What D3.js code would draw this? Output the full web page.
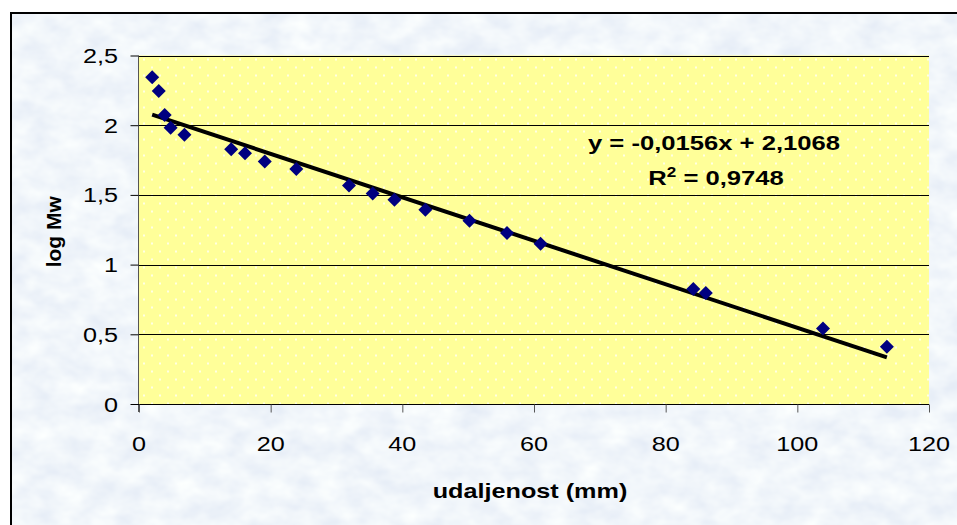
<!DOCTYPE html>
<html>
<head>
<meta charset="utf-8">
<script src="https://cdn.jsdelivr.net/npm/d3@7"></script>
<style>
  html, body { margin: 0; padding: 0; background: #fff; }
  svg { display: block; }
</style>
</head>
<body>
<svg width="957" height="525"></svg>
<script>
// distance from origin (mm) and log of molecular weight
const distance = [2.0, 3.0, 3.9, 4.8, 6.9, 14.0, 16.1, 19.1, 23.9, 31.9, 35.5, 38.8, 43.5, 50.2, 55.9, 61.0, 84.2, 86.1, 103.9, 113.6];
const logMw = [2.344, 2.246, 2.074, 1.981, 1.931, 1.828, 1.799, 1.739, 1.685, 1.567, 1.510, 1.465, 1.393, 1.314, 1.226, 1.150, 0.825, 0.797, 0.541, 0.410];

// linear trend shown on the chart
const slope = -0.0156;
const intercept = 2.1068;
const rSquared = "0,9748";

const xTicks = [0, 20, 40, 60, 80, 100, 120];
const yTicks = [0, 0.5, 1, 1.5, 2, 2.5];

const width = 957, height = 525;
const plot = { left: 139, right: 929, top: 55.5, bottom: 404 };

const fmt = v => String(v).replace(".", ",");

const svg = d3.select("svg")
    .style("font-family", "'Liberation Sans', Arial, sans-serif");

const defs = svg.append("defs");

// mottled light blue background
const tex = defs.append("filter").attr("id", "tex")
    .attr("x", 0).attr("y", 0).attr("width", "100%").attr("height", "100%");
tex.append("feTurbulence")
    .attr("type", "fractalNoise")
    .attr("baseFrequency", "0.035 0.05")
    .attr("numOctaves", 3)
    .attr("seed", 7);
tex.append("feColorMatrix")
    .attr("type", "matrix")
    .attr("values", "0.26 0 0 0 0.75  0.22 0 0 0 0.81  0.10 0 0 0 0.91  0 0 0 0 1");

// white dots on the yellow plot area
const dots = defs.append("pattern").attr("id", "dots")
    .attr("patternUnits", "userSpaceOnUse")
    .attr("x", plot.left + 3).attr("y", plot.top + 2)
    .attr("width", 16).attr("height", 16);
dots.append("rect").attr("width", 16).attr("height", 16).attr("fill", "#ffff99");
dots.append("circle").attr("cx", 2).attr("cy", 2).attr("r", 1).attr("fill", "#fff");
dots.append("circle").attr("cx", 10).attr("cy", 10).attr("r", 1).attr("fill", "#fff");

// chart area
svg.append("rect")
    .attr("x", 11).attr("y", 13)
    .attr("width", width - 11).attr("height", height - 13)
    .attr("filter", "url(#tex)");
svg.append("path")
    .attr("d", `M11,${height}V13H${width}`)
    .attr("fill", "none")
    .attr("stroke", "#000")
    .attr("stroke-width", 2);

const x = d3.scaleLinear().domain([0, 120]).range([plot.left, plot.right]);
const y = d3.scaleLinear().domain([0, 2.5]).range([plot.bottom, plot.top]);

svg.append("rect")
    .attr("x", plot.left).attr("y", plot.top)
    .attr("width", plot.right - plot.left)
    .attr("height", plot.bottom - plot.top)
    .attr("fill", "url(#dots)");

// gridlines
svg.append("g")
    .selectAll("line")
    .data(yTicks.filter(d => d > 0))
    .join("line")
    .attr("x1", plot.left).attr("x2", plot.right)
    .attr("y1", d => Math.round(y(d)) + 0.5)
    .attr("y2", d => Math.round(y(d)) + 0.5)
    .attr("stroke", "#000");

// the excel text is drawn a little wider than normal
function place(sel, px, py, sx) {
    sel.attr("transform", `translate(${px},${py}) scale(${sx},1)`);
}

// y axis
const yAxis = svg.append("g")
    .attr("transform", `translate(${plot.left - 0.5},0)`)
    .call(d3.axisLeft(y).tickValues(yTicks).tickSize(8).tickFormat(fmt));
yAxis.select(".domain").attr("stroke", "#555").attr("d", `M0,${plot.top}V${plot.bottom + 8}`);
yAxis.selectAll(".tick line").attr("stroke", "#000");
yAxis.selectAll(".tick text").remove();
svg.append("g")
    .selectAll("text")
    .data(yTicks)
    .join("text")
    .attr("text-anchor", "end")
    .attr("font-size", 21)
    .attr("fill", "#000")
    .each(function(d) { place(d3.select(this), 118, y(d) + 7.5, 1.2); })
    .text(fmt);

// x axis
const xAxis = svg.append("g")
    .attr("transform", `translate(0,${Math.round(plot.bottom) + 0.5})`)
    .call(d3.axisBottom(x).tickValues(xTicks).tickSize(8).tickFormat(fmt));
xAxis.select(".domain").attr("stroke", "#000").attr("d", `M${plot.left - 8},0H${plot.right}`);
xAxis.selectAll(".tick line").attr("stroke", "#555");
xAxis.selectAll(".tick text").remove();
svg.append("g")
    .selectAll("text")
    .data(xTicks)
    .join("text")
    .attr("text-anchor", "middle")
    .attr("font-size", 21)
    .attr("fill", "#000")
    .each(function(d) { place(d3.select(this), x(d), 451, 1.2); })
    .text(fmt);

// axis titles
svg.append("text")
    .attr("text-anchor", "middle")
    .attr("font-size", 21)
    .attr("font-weight", "bold")
    .call(place, 530, 498, 1.2)
    .text("udaljenost (mm)");

svg.append("text")
    .attr("text-anchor", "middle")
    .attr("font-size", 21)
    .attr("font-weight", "bold")
    .attr("transform", `translate(61,${(plot.top + plot.bottom) / 2 + 2}) rotate(-90)`)
    .text("log Mw");

// trend line
const xMin = d3.min(distance), xMax = d3.max(distance);
svg.append("line")
    .attr("x1", x(xMin)).attr("y1", y(slope * xMin + intercept))
    .attr("x2", x(xMax)).attr("y2", y(slope * xMax + intercept))
    .attr("stroke", "#000")
    .attr("stroke-width", 4);

// points
const pts = distance.map((d, i) => ({ x: d, y: logMw[i] }));
svg.append("g")
    .selectAll("path")
    .data(pts)
    .join("path")
    .attr("d", d3.symbol(d3.symbolSquare, 98))
    .attr("transform", d => `translate(${x(d.x)},${y(d.y)}) rotate(45)`)
    .attr("fill", "#000080");

// equation label
const eq = svg.append("g").attr("font-weight", "bold").attr("font-size", 21);
eq.append("text")
    .attr("text-anchor", "middle")
    .call(place, 714, 150, 1.22)
    .text(`y = ${fmt(slope)}x + ${fmt(intercept)}`);
const r2 = eq.append("text")
    .attr("text-anchor", "middle")
    .call(place, 716, 185, 1.22);
r2.append("tspan").text("R");
r2.append("tspan").attr("font-size", 14).attr("dy", -8).text("2");
r2.append("tspan").attr("dy", 8).text(` = ${rSquared}`);
</script>
</body>
</html>
